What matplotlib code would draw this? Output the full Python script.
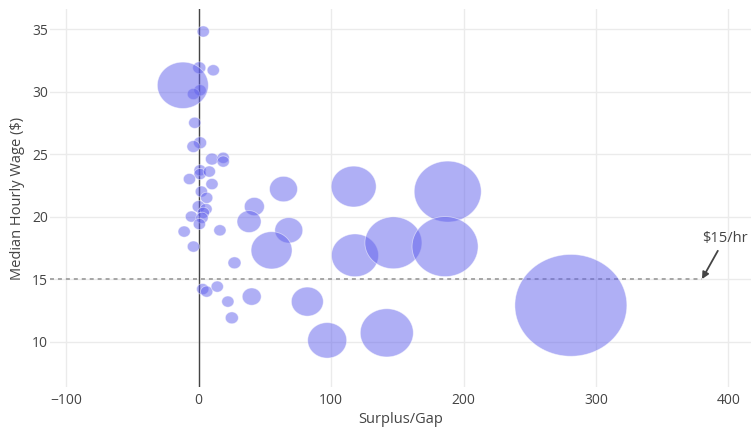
import numpy as np
import matplotlib
matplotlib.use("Agg")
import matplotlib.pyplot as plt

plt.rcParams['font.family'] = ['Open Sans', 'DejaVu Sans']

# ---- data ----
surplus_gap = [3.4, 0.4, 11, 1, -4, -3, 1, -4, 10, 18.5, 18.5, 1, 1, 8, -7, 10, 2, 6,
               0, 5.5, -5.5, 3.5, 2.5, 0.5, -11, 16, -4, 3, 6, 14, 22, 25, 27, -12,
               42, 38, 40, 64, 68, 55, 82, 97, 117, 118, 142, 147, 188, 186, 281]
median_wage = [34.8, 31.9, 31.7, 30.1, 29.8, 27.5, 25.9, 25.6, 24.6, 24.7, 24.4, 23.7, 23.4,
               23.6, 23.0, 22.6, 22.0, 21.5, 20.8, 20.6, 20.0, 20.3, 19.9, 19.4, 18.8, 18.9,
               17.6, 14.2, 14.0, 14.4, 13.2, 11.9, 16.3, 30.5,
               20.8, 19.6, 13.6, 22.2, 18.9, 17.3, 13.2, 10.1, 22.4, 16.9, 10.7, 17.9,
               22.0, 17.6, 12.9]
volume = [15, 17, 15, 15, 15, 15, 17, 17, 17, 15, 15, 15, 15, 15, 15, 15, 15, 15,
          17, 15, 15, 15, 15, 15, 15, 15, 15, 15, 15, 15, 15, 17, 17, 260,
          40, 58, 36, 78, 78, 168, 102, 152, 202, 221, 281, 325, 449, 436, 1254]
x_ticks = [-100, 0, 100, 200, 300, 400]
y_ticks = [10, 15, 20, 25, 30, 35]
threshold_wage = 15
threshold_end = 380

# ---- figure ----
W, H, DPI = 751, 429, 100
fig = plt.figure(figsize=(W / DPI, H / DPI), dpi=DPI)
ax = fig.add_axes([50 / W, (H - 387) / H, (W - 50) / W, (387 - 9) / H])

# bubble size scale: largest bubble ~112 px wide
vol = np.array(volume, dtype=float)
diam_px = 112 * np.sqrt(vol / vol.max())
s = (diam_px * 72 / DPI) ** 2

t = np.linspace(0, 2 * np.pi, 90)
ellipse = np.column_stack([1.1 * np.cos(t), np.sin(t)])

ax.scatter(surplus_gap, median_wage, s=s, marker=ellipse, color='#6161ec', alpha=0.5,
           edgecolors='white', linewidths=0.6, zorder=3)

ax.set_xlim(-112.3, 417)
ax.set_ylim(6.37, 36.6)

ax.set_xticks(x_ticks)
ax.set_xticklabels(['\u2212100' if v < 0 else str(v) for v in x_ticks])
ax.set_yticks(y_ticks)
ax.grid(True, color='#ebebeb', linewidth=1, zorder=0)
ax.set_axisbelow(True)
for sp in ax.spines.values():
    sp.set_visible(False)
ax.tick_params(length=0, colors='#444444', labelsize=10)
ax.tick_params(axis='x', pad=4)
ax.tick_params(axis='y', pad=1.5)

ax.axvline(0, color='#444444', linewidth=1, zorder=2)
ax.plot([-112.3, threshold_end], [threshold_wage, threshold_wage], color='#a0a0a0',
        linestyle=(0, (2.2, 2.2)), linewidth=1.3, zorder=2)

ax.annotate('\\$15/hr', xy=(threshold_end, threshold_wage), xytext=(16.5, 29.5),
            textcoords='offset points', ha='center', va='center', fontsize=10.5,
            color='#444444',
            arrowprops=dict(arrowstyle='-|>', color='#444444', lw=1.3,
                            shrinkA=2, shrinkB=0, mutation_scale=10))

ax.set_xlabel('Surplus/Gap', fontsize=10.5, color='#444444', labelpad=3)
ax.set_ylabel('Median Hourly Wage ($)', fontsize=10.5, color='#444444', labelpad=5)

fig.savefig('out.png', dpi=DPI)
